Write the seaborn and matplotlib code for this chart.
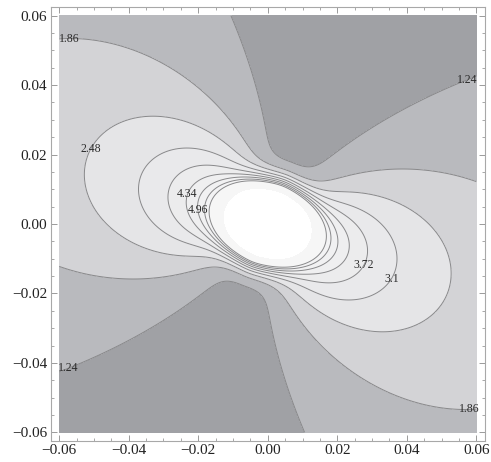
import numpy as np
import matplotlib
matplotlib.use("Agg")
import matplotlib.pyplot as plt
import seaborn as sns
from matplotlib.ticker import MultipleLocator, FuncFormatter

# contour levels and the labels shown on the plot
levels = [1.24, 1.86, 2.48, 3.10, 3.72, 4.34, 4.96, 5.58, 6.20]
label_levels = [1.86, 1.24, 2.48, 4.34, 4.96, 3.72, 3.10, 1.24, 1.86]
label_spots = [(-0.057, 0.059), (0.058, 0.040), (-0.052, 0.022), (-0.026, 0.0095),
               (-0.017, 0.0045), (0.028, -0.012), (0.036, -0.016), (-0.058, -0.040),
               (0.058, -0.059)]

# field model (lobes along a tilted axis, peak at the centre)
axis_angle = -21.0     # degrees
base_level = 1.0
lobe_strength = 0.082
lobe_power = 2.6
core_height = 34.0
core_width = 0.00857
clip_level = 11.0

# band shades, darkest (below 1.24) to lightest (core)
band_colors = ["#a0a1a5", "#b9babe", "#d3d3d6", "#e5e5e7", "#e9e9eb", "#ececed",
               "#efeff0", "#f1f1f2", "#f3f3f4", "#f6f6f6", "#ffffff"]

sns.set_theme(style="ticks")
plt.rcParams['font.family'] = ['Liberation Serif', 'DejaVu Serif']
plt.rcParams['axes.unicode_minus'] = True

xs = np.linspace(-0.06, 0.06, 600)
ys = np.linspace(-0.06, 0.06, 600)
X, Y = np.meshgrid(xs, ys)
r = np.maximum(np.hypot(X, Y), 1e-4)
psi = np.arctan2(Y, X) - np.deg2rad(axis_angle)
Z = (base_level
     + lobe_strength * np.abs(np.cos(psi)) ** lobe_power / r
     + core_height * np.exp(-(r / core_width) ** 2))
Z = np.minimum(Z, 50)

fig = plt.figure(figsize=(4.91, 4.62), dpi=100)
ax = fig.add_axes([50.5 / 491, 21 / 462, 434.5 / 491, 434 / 462])
ax.set_xlim(-0.0625, 0.0625)
ax.set_ylim(-0.0625, 0.0625)

fill_levels = [0] + levels + [clip_level, 60]
ax.contourf(X, Y, Z, levels=fill_levels, colors=band_colors)
cs = ax.contour(X, Y, Z, levels=levels, colors="#88888a", linewidths=0.7)

# one label per spot, each on its own (invisible) copy of the level
lab_fmt = lambda v: f"{v:.2f}".rstrip("0").rstrip(".")
for lvl, spot in zip(label_levels, label_spots):
    lab = ax.contour(X, Y, Z, levels=[lvl], colors="none")
    ax.clabel(lab, inline=False, fontsize=8.5, colors="#2a2a2a",
              manual=[spot], fmt=lab_fmt)
    for t in lab.labelTexts:
        t.set_rotation(0)

fmt = FuncFormatter(lambda v, p: f"{v:.2f}".replace("-", "\u2212") if abs(v) > 1e-9 else "0.00")
ax.xaxis.set_major_locator(MultipleLocator(0.02))
ax.yaxis.set_major_locator(MultipleLocator(0.02))
ax.xaxis.set_minor_locator(MultipleLocator(0.005))
ax.yaxis.set_minor_locator(MultipleLocator(0.005))
ax.xaxis.set_major_formatter(fmt)
ax.yaxis.set_major_formatter(fmt)
ax.tick_params(which="both", direction="in", top=True, right=True, color="#9a9a9a",
               labelsize=11, labelcolor="#222222", pad=2.5)
ax.tick_params(which="major", length=4.5, width=0.7)
ax.tick_params(which="minor", length=2.5, width=0.6)
for s in ax.spines.values():
    s.set_color("#a8a8a8")
    s.set_linewidth(0.8)

fig.savefig("out.png", dpi=100)
